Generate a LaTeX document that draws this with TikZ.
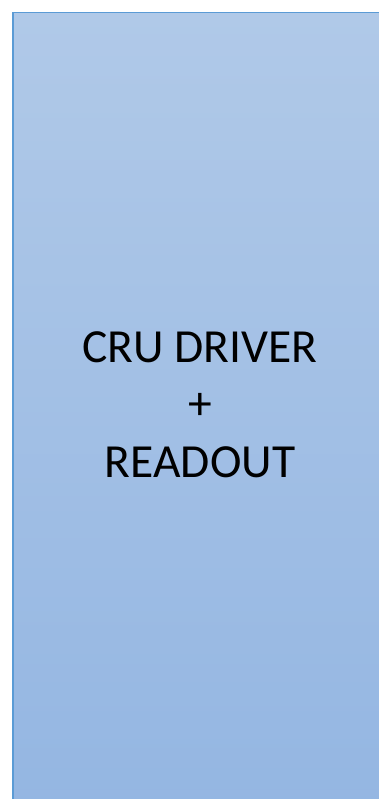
\documentclass[tikz,border=0pt]{standalone}
\usepackage{fontspec}
\setmainfont{Carlito}
\definecolor{topfill}{HTML}{B0C9E8}
\definecolor{botfill}{HTML}{94B6E2}
\definecolor{edge}{HTML}{5B9BD5}
\begin{document}
\begin{tikzpicture}[x=1pt,y=-1pt,
  panel/.style={draw=edge,line width=1.5pt,top color=topfill,bottom color=botfill},
  label/.style={align=center,font=\fontsize{47.5}{57.5}\selectfont,inner sep=0pt}]
\useasboundingbox (0,0) rectangle (379,799);
\begin{scope}
\clip (0,0) rectangle (379,799);
\path[panel] (12.75,12.75) rectangle (390,810);
\end{scope}
\node[label,anchor=base] (t) at (200,477) {CRU DRIVER\\+\\READOUT};
\end{tikzpicture}
\end{document}
